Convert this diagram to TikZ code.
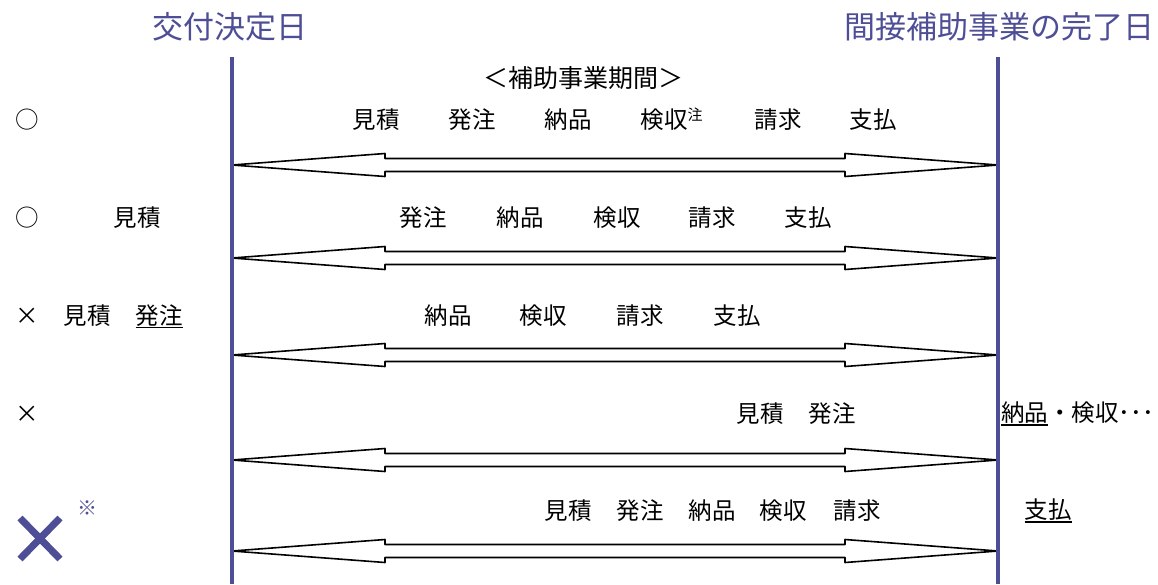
\documentclass[tikz,border=0pt]{standalone}
\usepackage{fontspec}
\setmainfont{Noto Sans CJK JP}
\usetikzlibrary{calc}
\definecolor{dateBlue}{RGB}{78,78,150}
\newcommand{\kasen}[1]{\setbox0=\hbox{#1}\rlap{\raisebox{-3.8pt}{\rule{\wd0}{1.3pt}}}\box0}

\begin{document}
\begin{tikzpicture}[x=1pt,y=-1pt]
    \tikzstyle{DateLine} = [
            draw=dateBlue,
            line width=3.5pt
    ];
    \tikzstyle{DateLabel} = [
            text=dateBlue,
            inner sep=0pt,
            font={\fontsize{31}{36}\selectfont}
    ];
    \tikzstyle{PeriodArrow} = [
            draw=black,
            fill=white,
            line width=1.6pt,
            line join=round
    ];
    \tikzstyle{StepLabel} = [
            inner sep=0pt,
            font={\fontsize{23.5}{28}\selectfont}
    ];
    \tikzstyle{NoteMark} = [
            inner sep=0pt,
            font={\fontsize{15}{17}\selectfont}
    ];
    \tikzstyle{CrossMark} = [
            StepLabel,
            font={\fontsize{23.5}{28}\selectfont\addfontfeature{CharacterWidth=Full}}
    ];
    \tikzstyle{BigCross} = [
            draw=dateBlue,
            line width=7pt
    ];

    \useasboundingbox (0,0) rectangle (1158,584);

    % arrows of the period, one per row
    \foreach \r/\y in {1/165,2/258,3/355,4/460,5/551}{
        \coordinate (L\r) at (232,\y);
        \coordinate (R\r) at (998,\y);
        \draw[PeriodArrow] (L\r) -- ($(L\r)+(153,-11.5)$) -- ($(L\r)+(153,-6.5)$)
              -- ($(R\r)+(-153,-6.5)$) -- ($(R\r)+(-153,-11.5)$) -- (R\r)
              -- ($(R\r)+(-153,11.5)$) -- ($(R\r)+(-153,6.5)$)
              -- ($(L\r)+(153,6.5)$) -- ($(L\r)+(153,11.5)$) -- cycle;
    }

    % the two dates
    \node[DateLabel, name=Kofu]   at (230,27) {交付決定日};
    \node[DateLabel, name=Kanryo] at (999,27) {間接補助事業の完了日};
    \coordinate (KofuTop)   at (232,57);
    \coordinate (KofuEnd)   at (232,584);
    \coordinate (KanryoTop) at (998,57);
    \coordinate (KanryoEnd) at (998,584);
    \draw[DateLine] (KofuTop)   -- (KofuEnd);
    \draw[DateLine] (KanryoTop) -- (KanryoEnd);

    \node[StepLabel, name=Period, font={\fontsize{25}{30}\selectfont}] at (583,78) {＜補助事業期間＞};

    % row 1
    \node[StepLabel, name=Mark1]     at (27,120)  {○};
    \node[StepLabel, name=Mitsu1]    at (376,120) {見積};
    \node[StepLabel, name=Hatchu1]   at (472,120) {発注};
    \node[StepLabel, name=Nohin1]    at (568,120) {納品};
    \node[StepLabel, name=Kenshu1]   at (664,120) {検収};
    \node[NoteMark,  name=Chu1]      at (695,115) {注};
    \node[StepLabel, name=Seikyu1]   at (778,120) {請求};
    \node[StepLabel, name=Shiharai1] at (873,120) {支払};

    % row 2
    \node[StepLabel, name=Mark2]     at (27,218)  {○};
    \node[StepLabel, name=Mitsu2]    at (137,218) {見積};
    \node[StepLabel, name=Hatchu2]   at (423,218) {発注};
    \node[StepLabel, name=Nohin2]    at (520,218) {納品};
    \node[StepLabel, name=Kenshu2]   at (617,218) {検収};
    \node[StepLabel, name=Seikyu2]   at (712,218) {請求};
    \node[StepLabel, name=Shiharai2] at (808,218) {支払};

    % row 3
    \node[CrossMark, name=Mark3]     at (27,316)  {×};
    \node[StepLabel, name=Mitsu3]    at (87,316)  {見積};
    \node[StepLabel, name=Hatchu3]   at (159,316) {\kasen{発注}};
    \node[StepLabel, name=Nohin3]    at (448,316) {納品};
    \node[StepLabel, name=Kenshu3]   at (543,316) {検収};
    \node[StepLabel, name=Seikyu3]   at (640,316) {請求};
    \node[StepLabel, name=Shiharai3] at (737,316) {支払};

    % row 4
    \node[CrossMark, name=Mark4]     at (27,414)  {×};
    \node[StepLabel, name=Mitsu4]    at (760,414) {見積};
    \node[StepLabel, name=Hatchu4]   at (832,414) {発注};
    \node[StepLabel, name=After4, anchor=west] at (1001,414) {\kasen{納品}・検収･･･};

    % row 5
    \coordinate (CrossA) at (20,518);
    \coordinate (CrossB) at (60,559);
    \coordinate (CrossC) at (60,518);
    \coordinate (CrossD) at (20,559);
    \draw[BigCross] (CrossA) -- (CrossB);
    \draw[BigCross] (CrossC) -- (CrossD);
    \node[NoteMark, name=Kome5, text=dateBlue, font={\fontsize{20}{22}\selectfont}] at (87,508) {※};
    \node[StepLabel, name=Mitsu5]    at (568,511)  {見積};
    \node[StepLabel, name=Hatchu5]   at (640,511)  {発注};
    \node[StepLabel, name=Nohin5]    at (712,511)  {納品};
    \node[StepLabel, name=Kenshu5]   at (783,511)  {検収};
    \node[StepLabel, name=Seikyu5]   at (857,511)  {請求};
    \node[StepLabel, name=Shiharai5] at (1048,511) {\kasen{支払}};
\end{tikzpicture}
\end{document}
